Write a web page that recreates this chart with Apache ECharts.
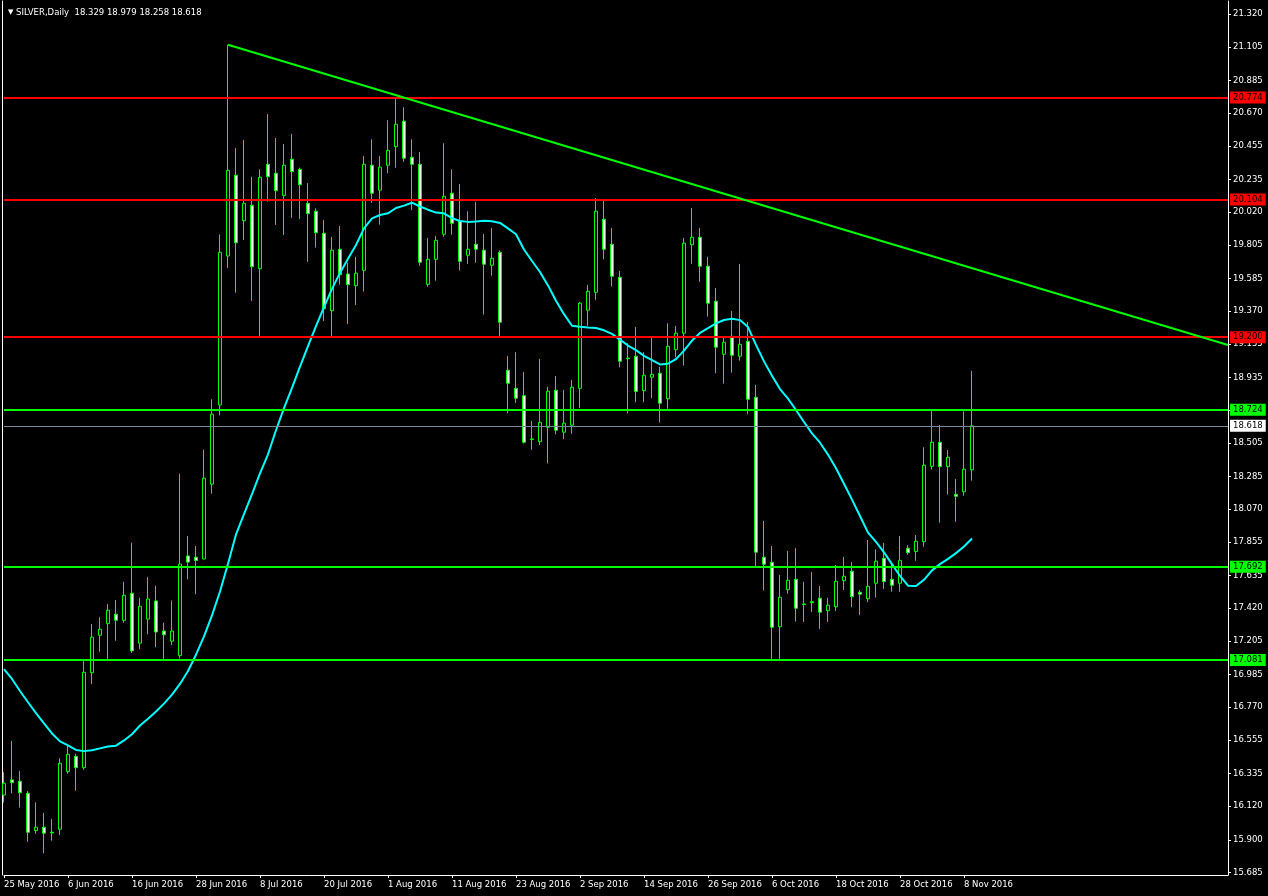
<!DOCTYPE html>
<html>
<head>
<meta charset="utf-8">
<script src="https://cdn.jsdelivr.net/npm/echarts@6/dist/echarts.min.js"></script>
<style>html,body{margin:0;padding:0;background:#000;}#c{width:1268px;height:896px;}</style>
</head>
<body>
<div id="c"></div>
<script>
const symbolName = 'SILVER,Daily';
const dates = [
"25 May 2016","26 May 2016","27 May 2016","30 May 2016","31 May 2016",
"1 Jun 2016","2 Jun 2016","3 Jun 2016","6 Jun 2016","7 Jun 2016","8 Jun 2016","9 Jun 2016","10 Jun 2016","13 Jun 2016","14 Jun 2016","15 Jun 2016","16 Jun 2016","17 Jun 2016","20 Jun 2016","21 Jun 2016","22 Jun 2016","23 Jun 2016","24 Jun 2016","27 Jun 2016","28 Jun 2016","29 Jun 2016","30 Jun 2016",
"1 Jul 2016","4 Jul 2016","5 Jul 2016","6 Jul 2016","7 Jul 2016","8 Jul 2016","11 Jul 2016","12 Jul 2016","13 Jul 2016","14 Jul 2016","15 Jul 2016","18 Jul 2016","19 Jul 2016","20 Jul 2016","21 Jul 2016","22 Jul 2016","25 Jul 2016","26 Jul 2016","27 Jul 2016","28 Jul 2016","29 Jul 2016",
"1 Aug 2016","2 Aug 2016","3 Aug 2016","4 Aug 2016","5 Aug 2016","8 Aug 2016","9 Aug 2016","10 Aug 2016","11 Aug 2016","12 Aug 2016","15 Aug 2016","16 Aug 2016","17 Aug 2016","18 Aug 2016","19 Aug 2016","22 Aug 2016","23 Aug 2016","24 Aug 2016","25 Aug 2016","26 Aug 2016","29 Aug 2016","30 Aug 2016","31 Aug 2016",
"1 Sep 2016","2 Sep 2016","5 Sep 2016","6 Sep 2016","7 Sep 2016","8 Sep 2016","9 Sep 2016","12 Sep 2016","13 Sep 2016","14 Sep 2016","15 Sep 2016","16 Sep 2016","19 Sep 2016","20 Sep 2016","21 Sep 2016","22 Sep 2016","23 Sep 2016","26 Sep 2016","27 Sep 2016","28 Sep 2016","29 Sep 2016","30 Sep 2016",
"3 Oct 2016","4 Oct 2016","5 Oct 2016","6 Oct 2016","7 Oct 2016","10 Oct 2016","11 Oct 2016","12 Oct 2016","13 Oct 2016","14 Oct 2016","17 Oct 2016","18 Oct 2016","19 Oct 2016","20 Oct 2016","21 Oct 2016","24 Oct 2016","25 Oct 2016","26 Oct 2016","27 Oct 2016","28 Oct 2016","30 Oct 2016","31 Oct 2016",
"1 Nov 2016","2 Nov 2016","3 Nov 2016","4 Nov 2016","7 Nov 2016","8 Nov 2016","9 Nov 2016"
];
const opens = [
16.194,16.293,16.284,16.205,15.960,15.982,15.950,15.969,16.347,16.448,
16.373,16.997,17.243,17.319,17.381,17.341,17.518,17.191,17.349,17.468,
17.270,17.204,17.109,17.763,17.755,17.744,18.235,18.755,19.733,20.263,
19.965,20.066,19.650,20.335,20.276,20.129,20.368,20.302,20.079,20.027,
19.882,19.374,19.777,19.615,19.538,19.639,20.329,20.165,20.329,20.451,
20.618,20.381,20.335,19.547,19.711,19.876,20.145,19.961,19.738,19.810,
19.771,19.672,19.757,18.983,18.864,18.816,18.532,18.514,18.608,18.851,
18.576,18.622,18.864,19.377,19.495,19.974,19.810,19.593,19.063,19.075,
18.849,18.937,18.963,18.796,19.118,19.226,19.807,19.856,19.666,19.436,
19.088,19.206,19.075,19.173,18.805,17.755,17.722,17.299,17.542,17.610,
17.448,17.463,17.486,17.404,17.430,17.601,17.663,17.525,17.483,17.584,
17.748,17.610,17.584,17.814,17.792,17.857,18.352,18.510,18.350,18.168,
18.185,18.329
];
const highs = [
16.343,16.549,16.352,16.220,16.146,16.076,16.037,16.435,16.522,16.465,
17.076,17.317,17.361,17.448,17.474,17.593,17.850,17.489,17.625,17.568,
17.325,17.470,18.304,17.895,17.829,18.462,18.792,19.875,21.120,20.442,
20.495,20.252,20.302,20.665,20.508,20.468,20.534,20.313,20.212,20.046,
19.970,19.858,19.930,19.689,19.727,20.390,20.499,20.390,20.624,20.772,
20.710,20.499,20.416,19.851,19.864,20.473,20.302,20.206,20.027,20.088,
19.878,19.917,19.769,19.077,19.101,18.971,18.650,19.057,18.873,18.945,
18.853,18.919,19.431,19.543,20.114,20.105,19.917,19.635,19.160,19.267,
19.101,19.199,19.006,19.291,19.273,19.851,20.048,19.917,19.727,19.523,
19.199,19.372,19.681,19.300,18.886,17.993,17.829,17.639,17.796,17.814,
17.593,17.658,17.566,17.488,17.704,17.757,17.722,17.540,17.868,17.807,
17.849,17.711,17.895,17.834,17.901,18.477,18.722,18.623,18.459,18.269,
18.713,18.979
];
const lows = [
16.144,16.205,16.111,15.887,15.940,15.811,15.894,15.931,16.334,16.222,
16.360,16.923,17.135,17.085,17.207,17.325,17.126,17.151,17.249,17.165,
17.082,17.178,17.090,17.610,17.513,17.740,18.172,18.686,19.654,19.492,
19.838,19.438,19.201,20.090,19.937,19.871,19.983,19.976,19.694,19.788,
19.306,19.195,19.545,19.287,19.411,19.499,20.083,19.939,20.276,20.313,
20.352,20.035,19.669,19.532,19.571,19.860,19.873,19.637,19.682,19.689,
19.348,19.604,19.203,18.700,18.768,18.502,18.461,18.492,18.372,18.562,
18.530,18.566,18.733,19.275,19.446,19.711,19.532,19.002,18.698,18.773,
18.773,18.799,18.639,18.730,19.068,19.013,19.682,19.564,19.335,18.963,
18.895,18.967,19.046,18.694,17.693,17.536,17.080,17.080,17.516,17.332,
17.330,17.396,17.284,17.330,17.402,17.540,17.428,17.376,17.461,17.490,
17.547,17.529,17.529,17.772,17.732,17.824,18.330,17.982,18.166,17.988,
18.159,18.258
];
const closes = [
16.271,16.275,16.209,15.949,15.982,15.943,15.945,16.402,16.461,16.373,
17.000,17.230,17.282,17.407,17.341,17.505,17.140,17.433,17.481,17.264,
17.246,17.270,17.710,17.723,17.734,18.274,18.694,19.757,20.295,19.820,
20.079,19.663,20.250,20.254,20.162,20.329,20.287,20.201,20.011,19.886,
19.387,19.771,19.610,19.545,19.620,20.335,20.145,20.316,20.427,20.598,
20.375,20.335,19.692,19.711,19.836,20.125,19.948,19.698,19.777,19.777,
19.679,19.718,19.298,18.897,18.799,18.510,18.528,18.641,18.845,18.589,
18.635,18.871,19.423,19.501,20.027,19.777,19.600,19.042,19.059,18.843,
18.950,18.956,18.766,19.140,19.226,19.817,19.856,19.666,19.423,19.134,
19.167,19.081,19.153,18.792,17.788,17.709,17.295,17.492,17.604,17.420,
17.444,17.457,17.394,17.440,17.597,17.630,17.496,17.512,17.564,17.729,
17.595,17.571,17.735,17.785,17.860,18.359,18.510,18.350,18.411,18.155,
18.333,18.618
];
const movingAverage = [
17.020,16.956,16.877,16.803,16.732,16.664,16.598,16.546,16.519,16.490,
16.482,16.488,16.500,16.512,16.518,16.552,16.593,16.650,16.694,16.742,
16.794,16.853,16.923,17.008,17.115,17.236,17.373,17.530,17.712,17.905,
18.038,18.170,18.305,18.431,18.589,18.734,18.867,19.006,19.141,19.272,
19.397,19.517,19.622,19.715,19.805,19.914,19.980,20.002,20.013,20.048,
20.064,20.083,20.058,20.037,20.018,20.013,19.981,19.963,19.957,19.960,
19.964,19.961,19.950,19.914,19.876,19.776,19.700,19.628,19.540,19.439,
19.351,19.275,19.268,19.263,19.260,19.245,19.222,19.184,19.145,19.115,
19.077,19.050,19.021,19.026,19.056,19.112,19.178,19.228,19.259,19.291,
19.313,19.321,19.312,19.266,19.149,19.041,18.947,18.859,18.796,18.722,
18.643,18.568,18.507,18.429,18.339,18.238,18.133,18.026,17.917,17.856,
17.787,17.710,17.632,17.568,17.566,17.607,17.669,17.710,17.744,17.782,
17.826,17.878
];
const priceTicks = [21.320,21.105,20.885,20.670,20.455,20.235,20.020,19.805,19.585,19.370,19.155,18.935,18.720,18.505,18.285,18.070,17.855,17.635,17.420,17.205,16.985,16.770,16.555,16.335,16.120,15.900,15.685];
const resistanceLevels = [20.774, 20.104, 19.200];
const supportLevels = [18.724, 17.692, 17.081];
const lastPrice = 18.618;
const trendFrom = [28, 21.120];
const trendTo = [153, 19.149];
const emptySlots = 32;

const FONT = 'DejaVu Sans';
const categories = dates.concat(Array.from({length: emptySlots}, (_, k) => '_' + k));
const ohlc = dates.map((d, i) => [opens[i], closes[i], lows[i], highs[i]]);
const n = dates.length - 1;
const fmt = v => Number(v).toFixed(3);
const showDateTick = idx => idx % 8 === 0 && idx < dates.length;

const lvlLabel = (bg, v) => ({ show: true, position: 'end', distance: 2, backgroundColor: bg, color: '#000',
  fontFamily: FONT, fontSize: 8.5, padding: [2, 3, 1, 3], formatter: () => fmt(v) });

const chart = echarts.init(document.getElementById('c'), null, { renderer: 'canvas' });
chart.setOption({
  animation: false,
  backgroundColor: '#000000',
  title: {
    left: 3, top: 3,
    text: '{t|▼} ' + symbolName + '  ' + [opens[n], highs[n], lows[n], closes[n]].map(fmt).join(' '),
    textStyle: { color: '#ffffff', fontFamily: FONT, fontSize: 8.5, fontWeight: 'normal',
      rich: { t: { color: '#ffffff', fontSize: 7, fontFamily: FONT } } }
  },
  grid: { left: 4, right: 40, top: 1, bottom: 21, containLabel: false },
  xAxis: {
    type: 'category', data: categories, boundaryGap: false,
    axisLine: { show: true, lineStyle: { color: '#ffffff', width: 1 } },
    axisTick: { show: true, interval: showDateTick, length: 3, lineStyle: { color: '#ffffff' } },
    axisLabel: { interval: showDateTick, align: 'left', margin: 5, color: '#ffffff', fontFamily: FONT, fontSize: 8.5,
      formatter: v => (v.charAt(0) === '_' ? '' : v) },
    splitLine: { show: false }
  },
  yAxis: [{
    type: 'value', position: 'right', min: 15.6686, max: 21.4073, scale: true,
    axisLine: { show: true, lineStyle: { color: '#ffffff', width: 1 } },
    axisTick: { show: true, length: 3, customValues: priceTicks, lineStyle: { color: '#ffffff' } },
    axisLabel: { show: true, margin: 5, customValues: priceTicks, color: '#ffffff', fontFamily: FONT, fontSize: 8.5, formatter: v => fmt(v) },
    splitLine: { show: false }
  }, {
    type: 'value', position: 'left', offset: 2, min: 0, max: 1,
    axisLine: { show: true, lineStyle: { color: '#ffffff', width: 1 } },
    axisTick: { show: false }, axisLabel: { show: false }, splitLine: { show: false }
  }],
  series: [{
    type: 'candlestick', data: ohlc, barWidth: 4, clip: false, z: 2,
    itemStyle: { color: '#000000', color0: '#ffffff', borderColor: '#00ff00', borderColor0: '#00ff00', borderWidth: 1 },
    emphasis: { disabled: true },
    markLine: {
      silent: true, symbol: ['none', 'none'], animation: false, precision: 3,
      emphasis: { disabled: true },
      data: [
        ...resistanceLevels.map(v => ({ yAxis: v, lineStyle: { color: '#ff0000', width: 2, type: 'solid' }, label: lvlLabel('#ff0000', v) })),
        ...supportLevels.map(v => ({ yAxis: v, lineStyle: { color: '#00ff00', width: 2, type: 'solid' }, label: lvlLabel('#00ff00', v) })),
        { yAxis: lastPrice, lineStyle: { color: '#778899', width: 1, type: 'solid' }, label: lvlLabel('#ffffff', lastPrice) },
        [
          { coord: trendFrom, lineStyle: { color: '#00ff00', width: 2, type: 'solid' }, label: { show: false } },
          { coord: trendTo, lineStyle: { color: '#00ff00', width: 2, type: 'solid' }, label: { show: false } }
        ]
      ]
    }
  }, {
    type: 'line', data: movingAverage, showSymbol: false, symbol: 'none', z: 3,
    lineStyle: { color: '#00ffff', width: 2 }, emphasis: { disabled: true }
  }]
});
</script>
</body>
</html>
